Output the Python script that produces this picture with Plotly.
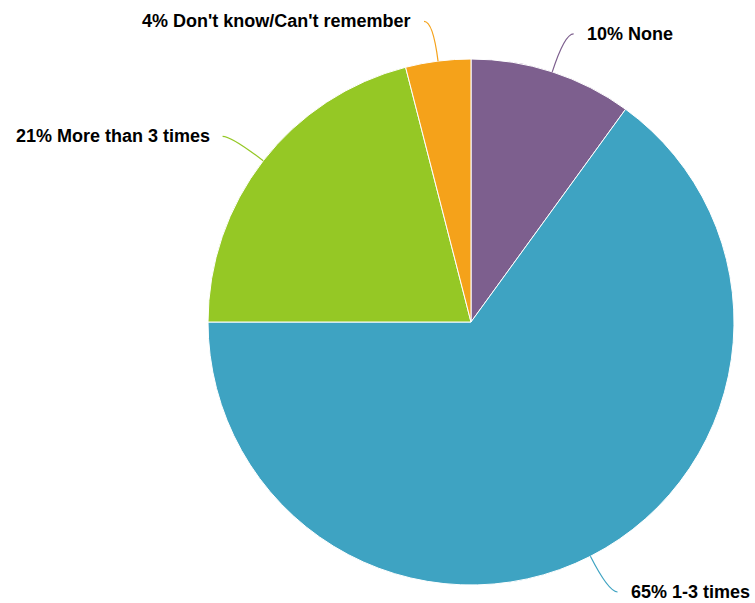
import math
import plotly.graph_objects as go

labels = ["None", "1-3 times", "More than 3 times", "Don't know/Can't remember"]
values = [10, 65, 21, 4]
colors = ["#7d5f8e", "#3ea3c2", "#95c825", "#f5a21a"]

W, H = 755, 603
ML, MR, MT, MB = 208, 21, 59, 18
DW = W - ML - MR  # 526
DH = H - MT - MB  # 526

fig = go.Figure(go.Pie(
    labels=labels, values=values, sort=False, direction="clockwise", rotation=0,
    marker=dict(colors=colors, line=dict(color="white", width=1)),
    textinfo="none", hoverinfo="label+percent", showlegend=False,
))

total = sum(values)
cum = 0
shapes, annotations = [], []
rad_len = 40.0
hook = 9.0
gap = 11.0
for lab, v, c in zip(labels, values, colors):
    mid = (cum + v / 2) / total * 2 * math.pi
    cum += v
    s, co = math.sin(mid), math.cos(mid)
    x0, y0 = 0.5 + 0.5 * s, 0.5 + 0.5 * co
    cx, cy = x0 + s * rad_len / DW, y0 + co * rad_len / DH
    side = 1 if s >= 0 else -1
    ex, ey = cx + side * hook / DW, cy
    shapes.append(dict(type="path", xref="paper", yref="paper",
                       path=f"M {x0},{y0} Q {cx},{cy} {ex},{ey}",
                       line=dict(color=c, width=1.2)))
    pct = round(v / total * 100)
    annotations.append(dict(xref="paper", yref="paper",
                            x=ex + side * gap / DW, y=ey,
                            xanchor="left" if side > 0 else "right", yanchor="middle",
                            text=f"<b>{pct}% {lab}</b>", showarrow=False,
                            font=dict(family="Liberation Sans, Arial, sans-serif", size=18, color="#000")))

fig.update_layout(
    width=W, height=H,
    margin=dict(l=ML, r=MR, t=MT, b=MB),
    paper_bgcolor="white", plot_bgcolor="white",
    shapes=shapes, annotations=annotations,
)
fig.write_html("out.html", config={"displayModeBar": False},
               post_script="document.body.style.margin='0px';")
